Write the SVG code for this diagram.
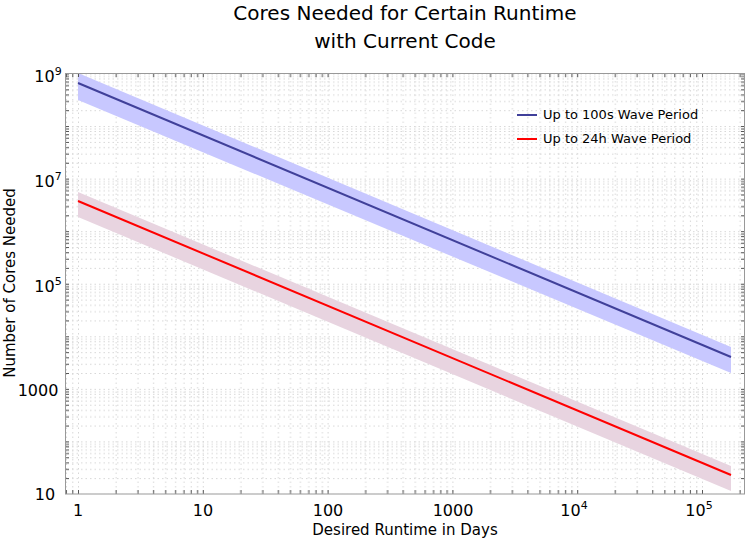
<svg xmlns="http://www.w3.org/2000/svg" width="747" height="541" viewBox="0 0 747 541">
<style>
text{font-family:"DejaVu Sans",sans-serif;fill:#000}
.t{font-size:20px;text-anchor:middle}
.al{font-size:15px;text-anchor:middle}
.tk{font-size:16px;text-anchor:middle}
.g{stroke:#d8d8d8;stroke-width:1;stroke-dasharray:1.5,3;fill:none}
.k{stroke:#555;stroke-width:1;fill:none}
</style>
<defs>
<pattern id="gx" patternUnits="userSpaceOnUse" x="78" y="0" width="124.8" height="541">
<path class="g" d="M0.5,0V541M38.1,0V541M60,0V541M75.6,0V541M87.7,0V541M97.6,0V541M106,0V541M113.2,0V541M119.6,0V541"/>
</pattern>
<pattern id="gy" patternUnits="userSpaceOnUse" x="0" y="73.5" width="747" height="52.56">
<path class="g" d="M0,0.5H747M0,2.96H747M0,5.56H747M0,8.66H747M0,12.16H747M0,16.36H747M0,21.46H747M0,27.96H747M0,37.26H747"/>
</pattern>
<pattern id="tx" patternUnits="userSpaceOnUse" x="78" y="0" width="124.8" height="541">
<path class="k" d="M0.5,0V541M38.1,0V541M60,0V541M75.6,0V541M87.7,0V541M97.6,0V541M106,0V541M113.2,0V541M119.6,0V541"/>
</pattern>
<pattern id="ty" patternUnits="userSpaceOnUse" x="0" y="73.5" width="747" height="52.56">
<path class="k" d="M0,0.5H747M0,2.96H747M0,5.56H747M0,8.66H747M0,12.16H747M0,16.36H747M0,21.46H747M0,27.96H747M0,37.26H747"/>
</pattern>
</defs>
<text class="t" x="405" y="20">Cores Needed for Certain Runtime</text>
<text class="t" x="405" y="48">with Current Code</text>
<g id="grid">
<rect x="65" y="73" width="680" height="421" fill="url(#gx)"/>
<rect x="65" y="73" width="680" height="421" fill="url(#gy)"/>
</g>
<g id="bands">
<polygon points="78,73 731,347 731,373 78,100" fill="#c8c8ff"/>
<polygon points="78,192 731,466 731,491 78,217" fill="#e8d4e0"/>
</g>
<g id="connectors">
<line x1="78" y1="83" x2="731" y2="357" stroke="#40409a" stroke-width="2"/>
<line x1="78" y1="201" x2="731" y2="475" stroke="#ff0000" stroke-width="2"/>
</g>
<g id="ticks">
<rect x="65" y="490" width="680" height="4" fill="url(#tx)"/>
<rect x="65" y="73" width="680" height="4" fill="url(#tx)"/>
<rect x="65" y="73" width="4" height="421" fill="url(#ty)"/>
<rect x="741" y="73" width="4" height="421" fill="url(#ty)"/>
</g>
<rect x="65.5" y="73.5" width="679" height="420.5" fill="none" stroke="#999" stroke-width="1"/>
<g id="xlabels">
<text class="tk" x="78" y="516">1</text>
<text class="tk" x="203" y="516">10</text>
<text class="tk" x="328" y="516">100</text>
<text class="tk" x="453" y="516">1000</text>
<text class="tk" x="574" y="516">10<tspan font-size="11" dy="-7">4</tspan></text>
<text class="tk" x="699" y="516">10<tspan font-size="11" dy="-7">5</tspan></text>
</g>
<g id="ylabels">
<text class="tk" x="48" y="82">10<tspan font-size="11" dy="-7">9</tspan></text>
<text class="tk" x="48" y="187">10<tspan font-size="11" dy="-7">7</tspan></text>
<text class="tk" x="48" y="292">10<tspan font-size="11" dy="-7">5</tspan></text>
<text class="tk" x="38" y="396">1000</text>
<text class="tk" x="45" y="500">10</text>
</g>
<text class="al" x="405" y="535">Desired Runtime in Days</text>
<text class="al" transform="translate(15,283) rotate(-90)">Number of Cores Needed</text>
<g id="legend">
<line x1="517" y1="115" x2="537" y2="115" stroke="#40409a" stroke-width="2"/>
<text x="543" y="119" font-size="13">Up to 100s Wave Period</text>
<line x1="517" y1="139" x2="537" y2="139" stroke="#ff0000" stroke-width="2"/>
<text x="543" y="143" font-size="13">Up to 24h Wave Period</text>
</g>
</svg>
